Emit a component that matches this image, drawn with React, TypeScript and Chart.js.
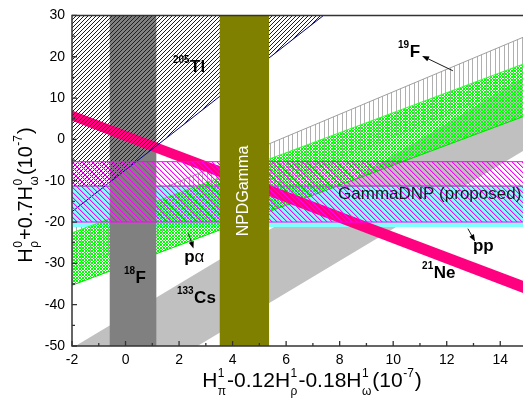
import React, { useEffect, useRef } from "react";
import { Chart, registerables } from "chart.js";

Chart.register(...registerables);

const FONT = '"Liberation Sans", Arial, Helvetica, sans-serif';

// ---- axes ----
const xRange = [-2, 14.85];
const yRange = [-50, 30];
const xTickStep = 2;
const yTickStep = 10;

// ---- sloped bands: y at the two ends x = -2 and x = 14.85 ----
const bandEndsX = [-2, 14.85];
const cs133Lower = [-68.2, -2.8];
const cs133Upper = [-50.5, 14.9];
const f19Lower = [-31.8, 13.6];
const f19Upper = [-21.1, 24.7];
const paLower = [-35.3, 5.5];
const paUpper = [-22.6, 18.2];
const ne21Lower = [4.5, -37.2];
const ne21Upper = [7.0, -34.2];

// ---- 205Tl: region above the Tl line ----
const tl205LineX = [-2, 7.4];
const tl205LineY = [-17.5, 30];
const tl205HatchX = [-2, -0.8, 7.4];
const tl205HatchY = [-11.3, -11.3, 30];
const tl205TopY = [30, 30];

// ---- horizontal bands [low, high] ----
const ppBand = [-20.0, -5.4];
const dnpBand = [-21.2, -11.3];

// ---- vertical bands [left, right] ----
const f18Band = [-0.6, 1.16];
const npdBand = [3.51, 5.37];

// ---- annotations (data coordinates) ----
const isoLabels = [
  { sup: "205", main: "Tl", x: 1.77, y: 16.4 },
  { sup: "19", main: "F", x: 10.18, y: 20.0 },
  { sup: "18", main: "F", x: -0.06, y: -34.7 },
  { sup: "133", main: "Cs", x: 1.92, y: -39.5 },
  { sup: "21", main: "Ne", x: 11.08, y: -33.5 },
];
const paLabel = { x: 2.19, y: -29.6 };
const ppLabel = { x: 12.98, y: -26.9 };
const dnpLabel = { text: "GammaDNP (proposed)", x: 7.94, y: -14.42 };
const npdLabel = { text: "NPDGamma", x: 4.41, y: -12.5 };
const arrows = [
  { from: [12.23, 16.6], to: [11.08, 20.2] },
  { from: [2.35, -22.8], to: [2.54, -26.4] },
  { from: [12.79, -21.6], to: [13.06, -24.7] },
];

type Part = { t?: string; sup?: string; sub?: string };
const xTitle: Part[] = [
  { t: "H" }, { sup: "1", sub: "π" }, { t: "-0.12H" }, { sup: "1", sub: "ρ" },
  { t: "-0.18H" }, { sup: "1", sub: "ω" }, { t: "(10" }, { sup: "-7" }, { t: ")" },
];
const yTitle: Part[] = [
  { t: "H" }, { sup: "0", sub: "ρ" }, { t: "+0.7H" }, { sup: "0", sub: "ω" },
  { t: "(10" }, { sup: "-7" }, { t: ")" },
];

const pts = (xs: number[], ys: number[]) => xs.map((x, i) => ({ x, y: ys[i] }));
const T = "rgba(0,0,0,0)";

function makePattern(w: number, h: number, draw: (g: CanvasRenderingContext2D) => void) {
  const c = document.createElement("canvas");
  c.width = w;
  c.height = h;
  const g = c.getContext("2d")!;
  draw(g);
  return g.createPattern(c, "repeat")!;
}

function drawRich(
  ctx: CanvasRenderingContext2D, parts: Part[], size: number, small: number,
  rise: number, drop: number
) {
  const mainF = `${size}px ${FONT}`;
  const smallF = `${small}px ${FONT}`;
  const widths = parts.map((p) => {
    if (p.t) { ctx.font = mainF; return ctx.measureText(p.t).width; }
    ctx.font = smallF;
    return Math.max(p.sup ? ctx.measureText(p.sup).width : 0, p.sub ? ctx.measureText(p.sub).width : 0) + 1.5;
  });
  const total = widths.reduce((s, v) => s + v, 0);
  let cx = -total / 2;
  ctx.textAlign = "left";
  ctx.textBaseline = "alphabetic";
  parts.forEach((p, i) => {
    if (p.t) { ctx.font = mainF; ctx.fillText(p.t, cx, 0); }
    else {
      ctx.font = smallF;
      if (p.sup) ctx.fillText(p.sup, cx + 0.5, -rise);
      if (p.sub) ctx.fillText(p.sub, cx + 0.5, drop);
    }
    cx += widths[i];
  });
}

const annotPlugin = {
  id: "annot",
  afterDatasetsDraw(chart: any) {
    const { ctx, chartArea: a, scales } = chart;
    const xs = scales.x, ys = scales.y;
    const px = (v: number) => xs.getPixelForValue(v);
    const py = (v: number) => ys.getPixelForValue(v);
    ctx.save();

    // NPDGamma rotated text
    ctx.save();
    ctx.translate(px(npdLabel.x), py(npdLabel.y));
    ctx.rotate(-Math.PI / 2);
    ctx.fillStyle = "#ffffff";
    ctx.font = `16px ${FONT}`;
    ctx.textAlign = "center";
    ctx.textBaseline = "middle";
    ctx.fillText(npdLabel.text, 0, 0);
    ctx.restore();

    // GammaDNP
    ctx.fillStyle = "#1a1a1a";
    ctx.font = `17px ${FONT}`;
    ctx.textAlign = "left";
    ctx.textBaseline = "alphabetic";
    ctx.fillText(dnpLabel.text, px(dnpLabel.x), py(dnpLabel.y));

    // isotope labels
    ctx.fillStyle = "#000";
    isoLabels.forEach((l) => {
      const X = px(l.x), Y = py(l.y);
      ctx.font = `bold 10px ${FONT}`;
      ctx.fillText(l.sup, X, Y - 9);
      const w = ctx.measureText(l.sup).width;
      ctx.font = `bold 17px ${FONT}`;
      ctx.fillText(l.main, X + w + 0.5, Y);
    });
    // p alpha
    {
      const X = px(paLabel.x), Y = py(paLabel.y);
      ctx.font = `bold 17px ${FONT}`;
      ctx.fillText("p", X, Y);
      const w = ctx.measureText("p").width;
      ctx.font = `17px ${FONT}`;
      ctx.fillText("α", X + w, Y);
    }
    ctx.font = `bold 17px ${FONT}`;
    ctx.fillText("pp", px(ppLabel.x), py(ppLabel.y));

    // arrows
    ctx.strokeStyle = "#000";
    ctx.lineWidth = 0.9;
    arrows.forEach((ar) => {
      const x1 = px(ar.from[0]), y1 = py(ar.from[1]);
      const x2 = px(ar.to[0]), y2 = py(ar.to[1]);
      const ang = Math.atan2(y2 - y1, x2 - x1);
      ctx.beginPath();
      ctx.moveTo(x1, y1);
      ctx.lineTo(x2 - 4 * Math.cos(ang), y2 - 4 * Math.sin(ang));
      ctx.stroke();
      ctx.beginPath();
      ctx.moveTo(x2, y2);
      ctx.lineTo(x2 - 7 * Math.cos(ang) + 2.6 * Math.sin(ang), y2 - 7 * Math.sin(ang) - 2.6 * Math.cos(ang));
      ctx.lineTo(x2 - 7 * Math.cos(ang) - 2.6 * Math.sin(ang), y2 - 7 * Math.sin(ang) + 2.6 * Math.cos(ang));
      ctx.closePath();
      ctx.fill();
    });

    // axes
    ctx.strokeStyle = "#333";
    ctx.lineWidth = 1.5;
    ctx.beginPath();
    ctx.moveTo(a.right, a.top);
    ctx.lineTo(a.left, a.top);
    ctx.lineTo(a.left, a.bottom);
    ctx.lineTo(a.right, a.bottom);
    ctx.stroke();
    ctx.lineWidth = 1.3;
    ctx.beginPath();
    xs.ticks.forEach((t: any) => {
      const p = px(t.value);
      ctx.moveTo(p, a.bottom);
      ctx.lineTo(p, a.bottom - 5);
      const m = t.value + xTickStep / 2;
      if (m < xRange[1]) {
        const pm = px(m);
        ctx.moveTo(pm, a.bottom);
        ctx.lineTo(pm, a.bottom - 3);
      }
    });
    ys.ticks.forEach((t: any) => {
      const p = py(t.value);
      ctx.moveTo(a.left, p);
      ctx.lineTo(a.left + 5, p);
      const m = t.value + yTickStep / 2;
      if (m < yRange[1]) {
        const pm = py(m);
        ctx.moveTo(a.left, pm);
        ctx.lineTo(a.left + 3, pm);
      }
    });
    ctx.stroke();

    // axis titles
    ctx.fillStyle = "#000";
    ctx.save();
    ctx.translate(312, 387);
    drawRich(ctx, xTitle, 21, 12, 10, 8);
    ctx.restore();
    ctx.save();
    ctx.translate(32, 195);
    ctx.rotate(-Math.PI / 2);
    drawRich(ctx, yTitle, 20, 12, 10, 6);
    ctx.restore();

    ctx.restore();
  },
};

export default function App() {
  const ref = useRef<HTMLCanvasElement>(null);
  useEffect(() => {
    const navy = makePattern(4, 4, (g) => {
      g.fillStyle = "#101088";
      for (let i = 0; i < 4; i++) g.fillRect(i, 3 - i, 1, 1);
    });
    const magenta = makePattern(5, 5, (g) => {
      for (let i = 0; i < 5; i++) {
        g.fillStyle = "#ff00ff";
        g.fillRect(i, i, 1, 1);
        g.fillStyle = "rgba(255,0,255,0.35)";
        g.fillRect((i + 1) % 5, i, 1, 1);
      }
    });
    const green = makePattern(3, 3, (g) => {
      g.fillStyle = "#00ff00";
      for (let xx = 0; xx < 3; xx++)
        for (let yy = 0; yy < 3; yy++)
          if ((xx + yy) % 3 === 0 || (xx - yy + 3) % 3 === 0) g.fillRect(xx, yy, 1, 1);
    });
    const vert = makePattern(9, 1, (g) => {
      g.fillStyle = "#b0b0b0";
      g.fillRect(0, 0, 1, 1);
      g.fillRect(4, 0, 1, 1);
    });

    const ln = (data: any[], opts: any = {}) => ({
      data, showLine: true, pointRadius: 0, pointHoverRadius: 0, pointHitRadius: 0,
      borderColor: T, borderWidth: 1, backgroundColor: T, fill: false, tension: 0, ...opts,
    });
    const flat = (xsArr: number[], v: number) => pts(xsArr, xsArr.map(() => v));

    const layers: any[][] = [
      [ln(pts(bandEndsX, cs133Lower)), ln(pts(bandEndsX, cs133Upper), { fill: "-1", backgroundColor: "#c0c0c0" })],
      [ln(pts(bandEndsX, f19Lower), { borderColor: "#d0d0d0" }),
       ln(pts(bandEndsX, f19Upper), { borderColor: "#a0a0a0", fill: "-1", backgroundColor: vert })],
      [ln(flat(bandEndsX, dnpBand[0])),
       ln(flat(bandEndsX, dnpBand[1]), { borderColor: "#505060", fill: "-1", backgroundColor: "#80ffff" })],
      [ln(pts(bandEndsX, paLower), { borderColor: "#00e000" }),
       ln(pts(bandEndsX, paUpper), { borderColor: "#30ff30", fill: "-1", backgroundColor: green })],
      [ln(flat(f18Band, yRange[0])), ln(flat(f18Band, yRange[1]), { fill: "-1", backgroundColor: "#808080" })],
      [ln(pts(bandEndsX, ne21Lower)), ln(pts(bandEndsX, ne21Upper), { fill: "-1", backgroundColor: "#ff0080" })],
      [ln(pts(tl205HatchX, tl205HatchY)), ln(pts(tl205LineX, tl205TopY), { fill: "-1", backgroundColor: navy })],
      [ln(pts(tl205LineX, tl205LineY), { borderColor: "#000080" })],
      [ln(flat(bandEndsX, ppBand[0]), { borderColor: "#ff00ff" }),
       ln(flat(bandEndsX, ppBand[1]), { borderColor: "#ff00ff", fill: "-1", backgroundColor: magenta })],
      [ln(flat(npdBand, yRange[0])), ln(flat(npdBand, yRange[1]), { fill: "-1", backgroundColor: "#808000" })],
    ];
    const datasets: any[] = [];
    layers.forEach((layer, li) => layer.forEach((d) => datasets.push({ ...d, order: 100 - li })));

    const chart = new Chart(ref.current!, {
      type: "scatter",
      data: { datasets },
      options: {
        responsive: false,
        maintainAspectRatio: false,
        devicePixelRatio: 1,
        animation: false,
        layout: { padding: { top: 11, right: 0, left: 0, bottom: 0 } },
        plugins: { legend: { display: false }, tooltip: { enabled: false } },
        events: [],
        scales: {
          x: {
            type: "linear", min: xRange[0], max: xRange[1],
            ticks: { stepSize: xTickStep, includeBounds: false, color: "#000", padding: 6, font: { family: FONT, size: 14 } },
            grid: { display: false, drawTicks: false },
            border: { display: false },
            afterFit: (s: any) => { s.height = 57; },
          },
          y: {
            type: "linear", min: yRange[0], max: yRange[1],
            ticks: { stepSize: yTickStep, color: "#000", padding: 7, font: { family: FONT, size: 14 } },
            grid: { display: false, drawTicks: false },
            border: { display: false },
            afterFit: (s: any) => { s.width = 72; },
          },
        },
      } as any,
      plugins: [annotPlugin],
    });
    return () => chart.destroy();
  }, []);
  return (
    <div style={{ position: "absolute", left: 0, top: 0, width: 523, height: 403, background: "#fff" }}>
      <canvas ref={ref} width={523} height={403} style={{ display: "block" }} />
    </div>
  );
}
